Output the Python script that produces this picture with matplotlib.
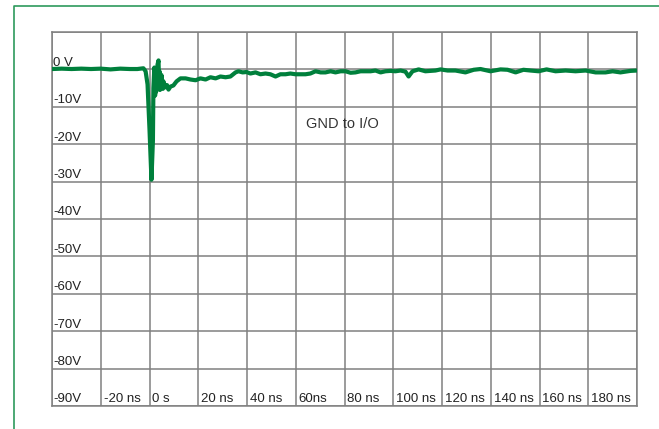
import matplotlib
matplotlib.use("Agg")
import matplotlib.pyplot as plt
from matplotlib import font_manager
from matplotlib.lines import Line2D

# pick a narrow font if there is one
names = set(f.name for f in font_manager.fontManager.ttflist)
FONT = "Liberation Sans Narrow" if "Liberation Sans Narrow" in names else "Liberation Sans"
plt.rcParams["font.family"] = [FONT, "DejaVu Sans"]

# trace (time in ns, volts)
time_ns = [-40, -36, -32, -28, -24, -20, -16, -12, -8, -5, -2.5, -1.6, -0.8, 0.0,
           0.8, 1.4, 1.6, 2.0, 2.3, 2.5, 2.7, 2.9, 3.1, 3.3, 3.7, 3.9, 4.1, 4.3,
           4.5, 4.7, 4.9, 5.1, 5.3, 5.5, 5.7, 6.1, 6.6, 7.2, 7.8, 8.6, 9.8, 11.1,
           12.7, 14.8, 16.8, 18.9, 20.9, 23.0, 25.0, 27.1,
           29.1, 31.2, 33.2, 35.3, 36.5, 38.2, 39.8, 41.4, 43.5, 45.5, 47.6,
           49.6, 51.7, 53.7, 55.8, 57.8, 59.9, 61.9, 64.0, 66.0, 68.1, 70.2,
           72.2, 74.3, 76.3, 78.4, 80.4, 82.5, 84.5, 86.6, 88.6, 90.7, 92.7,
           94.8, 96.8, 98.9, 100.9, 103.0, 105.0, 106.3, 107.9, 110.4, 113.2,
           117.3, 119.4, 122.3, 125.5, 129.6, 133.0, 135.8, 139.9, 144.0,
           146.9, 150.2, 153.4, 156.3, 159.6, 162.9, 166.6, 170.7, 174.8,
           178.9, 183.0, 187.1, 190.0, 193.2, 197.3, 200.0]
volts = [0.1, 0.2, 0.1, 0.2, 0.1, 0.2, 0.0, 0.2, 0.1, 0.1, 0.3, -0.5, -4.0, -16.0,
         -29.5, -19.0, -5.0, 0.5, -7.0, -3.0, -6.0, -1.0, -4.5, 1.3, 2.4, -3.0,
         -0.5, -5.5, -2.0, -4.8, -1.5, -5.0, -3.0, -5.2, -3.2, -4.0, -4.8, -4.2,
         -5.4, -4.6, -4.3, -3.2,
         -2.4, -2.4, -2.7, -2.9, -2.4, -2.7, -2.1, -2.4, -1.9, -2.1, -1.9, -0.8,
         -0.5, -0.8, -0.7, -1.1, -0.8, -1.3,
         -1.1, -1.3, -1.9, -1.3, -1.3, -1.1, -1.3, -1.3, -1.3, -1.1, -0.5, -0.8,
         -0.8, -0.5, -0.8, -0.5, -0.5, -0.9, -0.8, -0.5, -0.5, -0.5, -0.3, -0.8,
         -0.5, -0.4, -0.5, -0.3, -0.6, -1.9, -0.5, 0.0, -0.5, -0.3, 0.0, -0.3,
         -0.3, -0.8, -0.1, 0.1, -0.5, 0.0, -0.1, -0.8, -0.1, -0.3, -0.5, 0.0,
         -0.5, -0.3, -0.5, -0.3, -0.8, -0.8, -0.5, -0.8, -0.4, -0.3]

x_ticks = [-40, -20, 0, 20, 40, 60, 80, 100, 120, 140, 160, 180, 200]
x_labels = ["-20 ns", "0 s", "20 ns", "40 ns", "60ns", "80 ns", "100 ns",
            "120 ns", "140 ns", "160 ns", "180 ns"]
y_ticks = [-90, -80, -70, -60, -50, -40, -30, -20, -10, 0, 10]
y_labels = ["-90V", "-80V", "-70V", "-60V", "-50V", "-40V", "-30V", "-20V",
            "-10V", "0 V"]

GRID = "#808080"
TRACE = "#00803c"

fig = plt.figure(figsize=(6.59, 4.29), dpi=100)
ax = fig.add_axes([52 / 659, 23 / 429, 585 / 659, 374 / 429])

ax.plot(time_ns, volts, color=TRACE, lw=3.0, solid_joinstyle="round", zorder=3)

ax.set_xlim(-40, 200)
ax.set_ylim(-90, 10)
ax.set_xticks(x_ticks)
ax.set_yticks(y_ticks)
ax.tick_params(length=0, labelbottom=False, labelleft=False)
ax.grid(True, color=GRID, lw=1.1)
for s in ax.spines.values():
    s.set_color(GRID)
    s.set_linewidth(1.1)

# labels sit inside the grid, just above the lines
for v, lab in zip(y_ticks[:-1], y_labels):
    ax.annotate(lab, (-40, v), xytext=(1, 0.5), textcoords="offset points",
                ha="left", va="bottom", fontsize=9.5, color="#222222")
for t, lab in zip(x_ticks[1:-1], x_labels):
    ax.annotate(lab, (t, -90), xytext=(2, 0.5), textcoords="offset points",
                ha="left", va="bottom", fontsize=9.5, color="#222222")

ax.text(79, -14.5, "GND to I/O", ha="center", va="center", fontsize=10.5,
        color="#333333")

# green frame on top and left
fx = 13.5 / 659
fy = 1 - 5.5 / 429
fig.add_artist(Line2D([fx, fx, 1], [0, fy, fy], transform=fig.transFigure,
                      color="#2e9a5c", lw=1.2))

fig.savefig("out.png", dpi=100)
